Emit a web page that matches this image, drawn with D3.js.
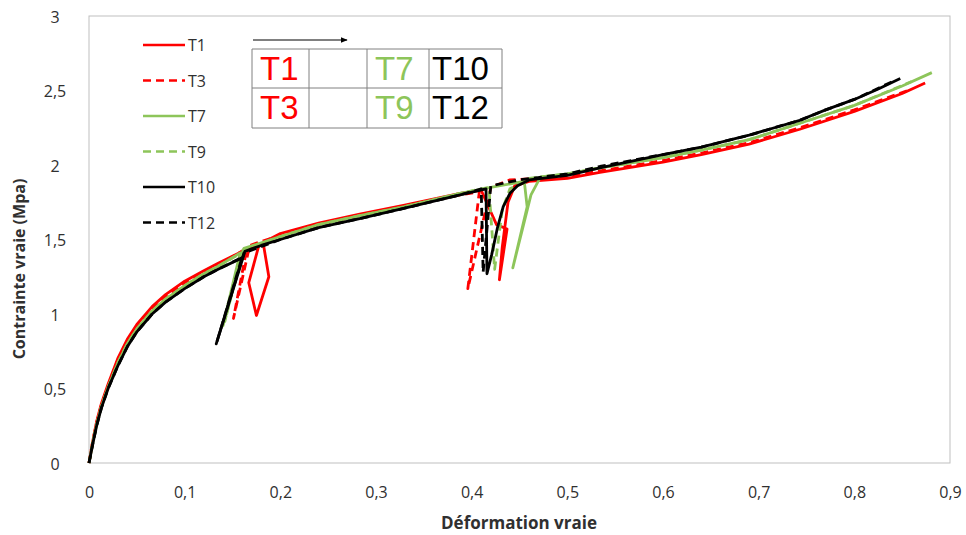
<!DOCTYPE html>
<html><head><meta charset="utf-8">
<script src="https://cdn.jsdelivr.net/npm/d3@7"></script>
<style>body{margin:0;background:#fff;} svg{display:block;font-family:"Open Sans",sans-serif;}</style>
</head><body><svg id="c" width="966" height="535"></svg>
<script>
// ---------- data ----------
const xTicks = [0,0.1,0.2,0.3,0.4,0.5,0.6,0.7,0.8,0.9];
const yTicks = [0,0.5,1,1.5,2,2.5,3];
const seriesNames = ["T1","T3","T7","T9","T10","T12"];
const seriesColors = ["#FF0000","#FF0000","#8DC55A","#8DC55A","#000000","#000000"];
const seriesDashed = [false,true,false,true,false,true];

const T1 = [[0,0],[0.004,0.15],[0.008,0.28],[0.013,0.40],[0.02,0.53],[0.03,0.70],[0.04,0.83],[0.05,0.93],[0.066,1.05],
 [0.08,1.13],[0.1,1.22],[0.12,1.29],[0.135,1.34],[0.16,1.42],[0.178,1.47],
 [0.167,1.21],[0.175,0.99],[0.188,1.25],[0.182,1.48],[0.2,1.54],[0.24,1.61],[0.283,1.67],[0.33,1.73],[0.388,1.81],[0.41,1.83],
 [0.419,1.70],[0.426,1.60],[0.437,1.57],[0.429,1.23],[0.432,1.45],[0.438,1.75],[0.445,1.86],[0.46,1.89],[0.5,1.91],
 [0.534,1.95],[0.6,2.02],[0.64,2.07],[0.69,2.14],[0.743,2.24],[0.8,2.36],[0.85,2.48],[0.874,2.55]];
const T3 = [[0,0],[0.004,0.15],[0.008,0.27],[0.013,0.39],[0.02,0.52],[0.03,0.69],[0.04,0.82],[0.05,0.92],[0.066,1.04],
 [0.08,1.12],[0.1,1.21],[0.12,1.28],[0.135,1.33],[0.165,1.44],
 [0.151,0.97],[0.168,1.46],[0.2,1.53],[0.24,1.60],[0.283,1.66],[0.33,1.72],[0.388,1.80],[0.408,1.82],
 [0.396,1.17],[0.42,1.85],[0.44,1.90],[0.5,1.92],[0.534,1.96],[0.6,2.03],[0.64,2.08],[0.69,2.15],[0.743,2.25],[0.8,2.37],[0.86,2.51]];
const T7 = [[0,0],[0.004,0.14],[0.008,0.26],[0.013,0.38],[0.02,0.51],[0.03,0.67],[0.04,0.80],[0.05,0.90],[0.066,1.02],
 [0.08,1.10],[0.1,1.19],[0.12,1.27],[0.135,1.32],[0.158,1.41],
 [0.14,0.92],[0.162,1.44],[0.2,1.52],[0.24,1.60],[0.283,1.66],[0.33,1.72],[0.388,1.81],[0.42,1.85],[0.455,1.89],
 [0.458,1.72],[0.443,1.31],[0.462,1.80],[0.472,1.92],[0.5,1.94],[0.534,1.98],[0.6,2.05],[0.64,2.10],[0.69,2.17],
 [0.743,2.28],[0.8,2.40],[0.85,2.53],[0.881,2.62]];
const T9 = [[0,0],[0.004,0.14],[0.008,0.26],[0.013,0.38],[0.02,0.51],[0.03,0.67],[0.04,0.80],[0.05,0.90],[0.066,1.02],
 [0.08,1.10],[0.1,1.19],[0.12,1.27],[0.135,1.32],[0.159,1.41],
 [0.142,0.95],[0.161,1.43],[0.2,1.52],[0.24,1.60],[0.283,1.66],[0.33,1.72],[0.388,1.81],[0.418,1.85],
 [0.424,1.30],[0.432,1.70],[0.44,1.84],[0.46,1.91],[0.5,1.94],[0.534,1.98],[0.6,2.05],[0.64,2.10],[0.69,2.17],
 [0.743,2.28],[0.8,2.40],[0.86,2.56]];
const T10 = [[0,0],[0.004,0.13],[0.008,0.25],[0.013,0.37],[0.02,0.50],[0.03,0.65],[0.04,0.78],[0.05,0.88],[0.066,1.00],
 [0.08,1.08],[0.1,1.17],[0.12,1.25],[0.135,1.30],[0.161,1.38],
 [0.133,0.80],[0.163,1.42],[0.18,1.46],[0.2,1.50],[0.24,1.58],[0.283,1.64],[0.33,1.71],[0.388,1.80],[0.415,1.84],
 [0.416,1.27],[0.421,1.40],[0.427,1.58],[0.433,1.72],[0.44,1.81],[0.448,1.86],[0.46,1.90],[0.5,1.93],[0.534,1.98],
 [0.6,2.07],[0.64,2.12],[0.69,2.20],[0.743,2.30],[0.77,2.37],[0.8,2.44],[0.825,2.51],[0.848,2.58]];
const T12 = [[0,0],[0.004,0.13],[0.008,0.25],[0.013,0.37],[0.02,0.50],[0.03,0.65],[0.04,0.78],[0.05,0.88],[0.066,1.00],
 [0.08,1.08],[0.1,1.17],[0.12,1.25],[0.135,1.30],[0.16,1.38],
 [0.134,0.82],[0.162,1.41],[0.2,1.50],[0.24,1.58],[0.283,1.64],[0.33,1.71],[0.388,1.80],[0.41,1.84],
 [0.412,1.28],[0.42,1.86],[0.45,1.90],[0.5,1.94],[0.534,1.99],[0.6,2.07],[0.64,2.12],[0.69,2.20],[0.743,2.30],
 [0.77,2.37],[0.8,2.44],[0.84,2.56]];
const seriesData = [T1,T3,T7,T9,T10,T12];

const tableRows = [["T1","","T7","T10"],["T3","","T9","T12"]];
const tableColors = ["#FF0000","#FF0000","#8DC55A","#000000"];

// ---------- drawing ----------
const svg = d3.select("#c");
const x = d3.scaleLinear().domain([0,0.9]).range([89,950]);
const y = d3.scaleLinear().domain([0,3]).range([463,16]);
const fmt = d => String(d).replace(".", ",");

svg.append("rect").attr("x",89).attr("y",16).attr("width",861).attr("height",447)
  .attr("fill","none").attr("stroke","#BFBFBF").attr("stroke-width",1);

const xa = svg.append("g").attr("transform","translate(0,463)")
  .call(d3.axisBottom(x).tickValues(xTicks).tickFormat(fmt).tickSize(0).tickPadding(24));
xa.select(".domain").remove();
xa.selectAll("text").attr("font-size",16).attr("fill","#303030").attr("font-family","Open Sans");

const ya = svg.append("g").attr("transform","translate(55,0)")
  .call(d3.axisLeft(y).tickValues(yTicks).tickFormat(fmt).tickSize(0).tickPadding(0));
ya.select(".domain").remove();
ya.selectAll("text").attr("font-size",16).attr("fill","#303030").attr("text-anchor","middle")
  .attr("font-family","Open Sans").attr("dy","0.4em");

svg.append("text").attr("x",519).attr("y",529).attr("text-anchor","middle")
  .attr("font-size",17).attr("font-weight","bold").attr("fill","#303030").text("Déformation vraie");
svg.append("text").attr("transform","translate(25,269) rotate(-90)").attr("text-anchor","middle")
  .attr("font-size",16).attr("font-weight","bold").attr("fill","#303030").text("Contrainte vraie (Mpa)");

const line = d3.line().x(d=>x(d[0])).y(d=>y(d[1]));
seriesData.forEach((data,i)=>{
  svg.append("path").datum(data).attr("d",line).attr("fill","none")
    .attr("stroke",seriesColors[i]).attr("stroke-width",2.8).attr("stroke-linejoin","round")
    .attr("stroke-dasharray",seriesDashed[i]?"8,5":null);
});

// legend
const lg = svg.append("g");
seriesNames.forEach((n,i)=>{
  const yy = 45 + i*35.5;
  lg.append("line").attr("x1",143).attr("x2",185).attr("y1",yy).attr("y2",yy)
    .attr("stroke",seriesColors[i]).attr("stroke-width",2.6)
    .attr("stroke-dasharray",seriesDashed[i]?"8,5":null);
  lg.append("text").attr("x",188).attr("y",yy+6).attr("font-size",16).attr("fill","#303030").text(n);
});

// table
const colX = [252,309,367,429,502];
const rowY = [49,88,128];
const tg = svg.append("g");
colX.forEach(cx=>tg.append("line").attr("x1",cx).attr("x2",cx).attr("y1",49).attr("y2",128).attr("stroke","#808080"));
rowY.forEach(ry=>tg.append("line").attr("x1",252).attr("x2",502).attr("y1",ry).attr("y2",ry).attr("stroke","#808080"));
tableRows.forEach((row,r)=>row.forEach((t,c)=>{
  if(!t) return;
  tg.append("text").attr("x",colX[c]+ (c===3?3:8)).attr("y",rowY[r]+31).attr("font-size",33)
    .attr("font-family","Liberation Sans").attr("fill",tableColors[c]).text(t);
}));
// arrow
svg.append("defs").append("marker").attr("id","ah").attr("viewBox","0 0 10 10").attr("refX",9).attr("refY",5)
  .attr("markerWidth",7).attr("markerHeight",7).attr("orient","auto")
  .append("path").attr("d","M0,1L10,5L0,9Z").attr("fill","#000");
svg.append("line").attr("x1",253).attr("x2",347).attr("y1",40).attr("y2",40).attr("stroke","#000")
  .attr("stroke-width",1).attr("marker-end","url(#ah)");
</script></body></html>
